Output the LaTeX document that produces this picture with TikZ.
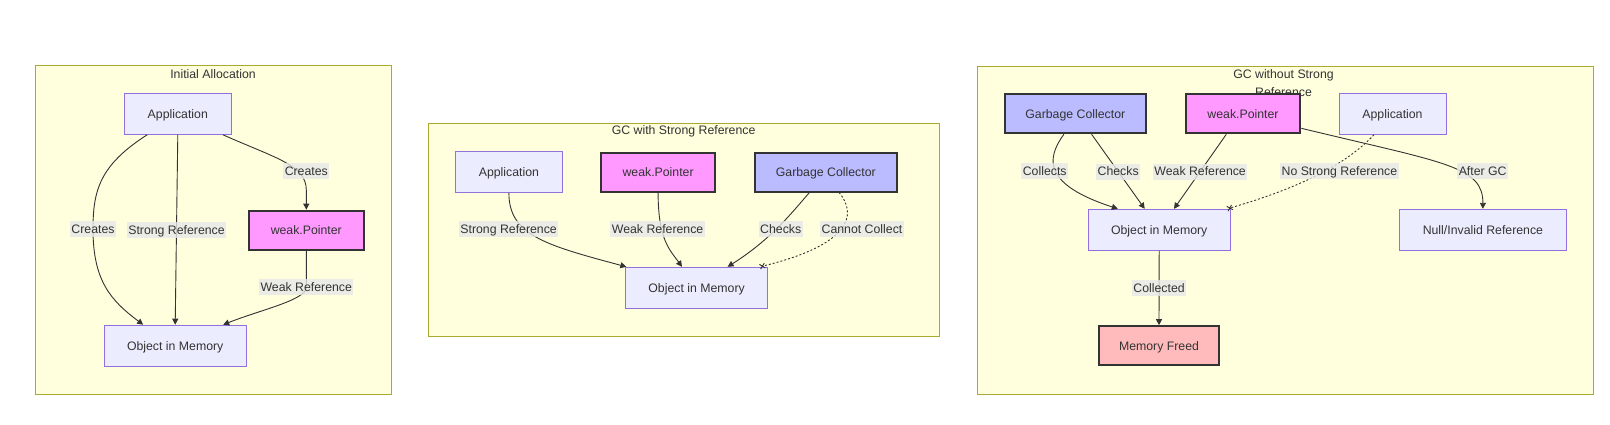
\documentclass[tikz,border=0pt]{standalone}
\usepackage{fontspec}
\setmainfont{Liberation Sans}
\usetikzlibrary{positioning,arrows.meta}
\definecolor{clfill}{HTML}{FFFFDE}
\definecolor{cldraw}{HTML}{AAAA33}
\definecolor{ndfill}{HTML}{ECECFF}
\definecolor{nddraw}{HTML}{9370DB}
\definecolor{txt}{HTML}{333333}
\definecolor{lblfill}{HTML}{E8E8E8}
\definecolor{ptrfill}{HTML}{FF99FF}
\definecolor{gcfill}{HTML}{BBBBFF}
\definecolor{freefill}{HTML}{FFBBBB}
\tikzset{cluster/.style={draw=cldraw,fill=clfill,line width=1pt},}
\tikzset{ctitle/.style={text=txt,inner sep=0pt,align=center},}
\tikzset{box/.style={draw=nddraw,fill=ndfill,line width=1pt,text=txt,minimum height=41pt,inner sep=0pt,text height=10.5pt,text depth=1.5pt},}
\tikzset{hbox/.style={box,draw=txt,line width=2pt,minimum height=39pt},}
\tikzset{edge/.style={draw=txt,line width=0.9pt,-{Triangle[length=6pt,width=6pt]}},}
\tikzset{nostrong/.style={draw=txt,line width=0.9pt,dash pattern=on 2pt off 2pt,-{Rays[n=4,length=7pt,width=7pt]}},}
\tikzset{lbl/.style={fill=lblfill,fill opacity=0.8,text opacity=1,text=txt,inner xsep=1.5pt,inner ysep=2pt,text height=10.3pt,text depth=1.7pt},}

\begin{document}
\begin{tikzpicture}[x=1pt,y=-1pt,font=\fontsize{12.3}{17.7}\selectfont]
	\useasboundingbox[fill=white] (0,0) rectangle (1610,424);
	% Initial Allocation
	\draw[cluster] (35,65) rectangle (391.7,394);
	\node[ctitle] (t1) at (213,74) {Initial Allocation};
	\node[box,minimum width=107pt] (app1) at (177.8,113.7) {Application};
	\node[hbox,fill=ptrfill,minimum width=114.7pt] (wp1) at (306.3,230.2) {weak.Pointer};
	\node[box,minimum width=142.3pt] (obj1) at (175.2,345.7) {Object in Memory};
	
	\draw[edge] ([xshift=-30.5pt]app1.south) .. controls (100,165) and (93,190) .. (93,229) node[lbl] {Creates} .. controls (93,280) and (110,300) .. ([xshift=-32pt]obj1.north);
	\draw[edge] (app1.south) -- node[lbl] {Strong Reference} (obj1.north);
	\draw[edge] ([xshift=45pt]app1.south) .. controls (275,158) and (306.3,165) .. (306.3,190) node[lbl] at (306.3,171.3) {Creates} -- (wp1.north);
	\draw[edge] (wp1.south) -- (306.3,287.3) node[lbl] {Weak Reference} .. controls (306.3,300) and (260,310) .. ([xshift=48pt]obj1.north);
	
	% GC with Strong Reference
	\draw[cluster] (428.5,123.3) rectangle (939.5,336.7);
	\node[ctitle] (t2) at (683.6,131.7) {GC with Strong Reference};
	\node[box,minimum width=106.8pt] (app2) at (508.9,172) {Application};
	\node[hbox,fill=ptrfill,minimum width=114.6pt] (wp2) at (658.1,172) {weak.Pointer};
	\node[hbox,fill=gcfill,minimum width=141.6pt] (gc2) at (825.8,172) {Garbage Collector};
	\node[box,minimum width=142.3pt] (obj2) at (696.6,287.8) {Object in Memory};
	
	\draw[edge] (app2.south) .. controls (508.9,235) and (545,245) .. ([xshift=1.4pt]obj2.north west) node[lbl] at (508.6,229.3) {Strong Reference};
	\draw[edge] (wp2.south) .. controls (658.1,240) and (670,250) .. ([xshift=-14.6pt]obj2.north) node[lbl] at (657.6,229.3) {Weak Reference};
	\draw[edge] ([xshift=-16.4pt]gc2.south) .. controls (790,215) and (770,240) .. ([xshift=31pt]obj2.north) node[lbl] at (780.7,229.3) {Checks};
	\draw[nostrong] ([xshift=13.3pt]gc2.south) .. controls (858,215) and (850,245) .. ([xshift=63.1pt]obj2.north) node[lbl] at (862,229.3) {Cannot Collect};
	
	% GC without Strong Reference
	\draw[cluster] (977.3,66) rectangle (1593.3,394.3);
	\node[ctitle] (t3) at (1283.5,83) {GC without Strong\\Reference};
	\node[hbox,fill=gcfill,minimum width=141.6pt] (gc3) at (1075.3,113.8) {Garbage Collector};
	\node[hbox,fill=ptrfill,minimum width=114.7pt] (wp3) at (1243,113.8) {weak.Pointer};
	\node[box,minimum width=107pt] (app3) at (1392.5,113.8) {Application};
	\node[box,minimum width=141.6pt] (obj3) at (1159.2,229.8) {Object in Memory};
	\node[box,minimum width=167.7pt] (null3) at (1482.9,229.8) {Null/Invalid Reference};
	\node[hbox,fill=freefill,minimum width=120.4pt] (freed3) at (1159,345.7) {Memory Freed};
	
	\draw[edge] ([xshift=-11.4pt]gc3.south) .. controls (1045,160) and (1045,185) .. ([xshift=-41.4pt]obj3.north) node[lbl] at (1044.7,171.3) {Collects};
	\draw[edge] ([xshift=16.3pt]gc3.south) -- node[lbl] {Checks} ([xshift=-14.5pt]obj3.north);
	\draw[edge] ([xshift=-16.7pt]wp3.south) -- node[lbl] {Weak Reference} ([xshift=14.8pt]obj3.north);
	\draw[nostrong] ([xshift=-18.5pt]app3.south) .. controls (1350,160) and (1310,185) .. ([xshift=67.9pt]obj3.north) node[lbl] at (1339.4,171.3) {No Strong Reference};
	\draw[edge] ([yshift=6pt]wp3.south east) .. controls (1445,163) and (1482.9,166) .. (null3.north) node[lbl] at (1482.7,171.3) {After GC};
	\draw[edge] (obj3.south) -- node[lbl] {Collected} (freed3.north);
\end{tikzpicture}
\end{document}
